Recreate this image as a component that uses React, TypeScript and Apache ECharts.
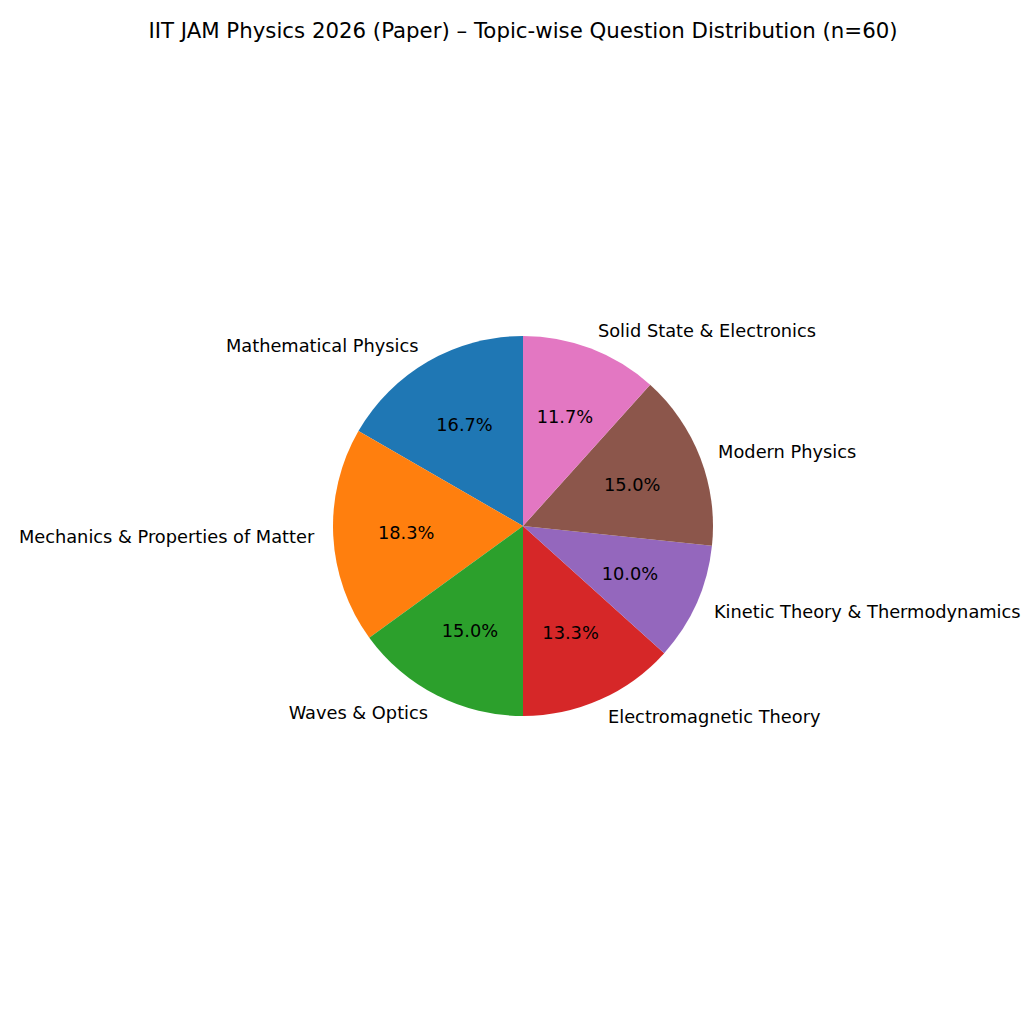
import React, { useEffect, useRef } from "react";
import * as echarts from "echarts";

const titleText = "IIT JAM Physics 2026 (Paper) – Topic-wise Question Distribution (n=60)";
const topics = [
  "Mathematical Physics",
  "Mechanics & Properties of Matter",
  "Waves & Optics",
  "Electromagnetic Theory",
  "Kinetic Theory & Thermodynamics",
  "Modern Physics",
  "Solid State & Electronics",
];
const counts = [10, 11, 9, 8, 6, 9, 7];
const colors = ["#1f77b4", "#ff7f0e", "#2ca02c", "#d62728", "#9467bd", "#8c564b", "#e377c2"];

const FONT = "DejaVu Sans";

export default function App() {
  const ref = useRef<HTMLDivElement>(null);
  useEffect(() => {
    document.body.style.margin = "0";
    const chart = echarts.init(ref.current!, null, { renderer: "svg" });
    const cx = 523;
    const cy = 526;
    const r = 190;
    const data = topics.map((name, i) => ({ name, value: counts[i], itemStyle: { color: colors[i] } }));
    chart.setOption({
      animation: false,
      backgroundColor: "#ffffff",
      graphic: [
        {
          type: "text",
          x: cx,
          y: 30,
          style: {
            text: titleText,
            fontFamily: FONT,
            fontSize: 21.3,
            fill: "#000",
            textAlign: "center",
            textVerticalAlign: "middle",
          },
        },
      ],
      series: [
        {
          type: "pie",
          center: [cx, cy],
          radius: [0, r],
          startAngle: 90,
          clockwise: false,
          avoidLabelOverlap: false,
          silent: true,
          data,
          label: {
            show: true,
            position: "outside",
            formatter: "{b}",
            fontFamily: FONT,
            fontSize: 17.8,
            color: "#000",
            distanceToLabelLine: 0,
          },
          labelLine: { show: false, length: r * 0.1, length2: 0 },
        },
        {
          type: "pie",
          center: [cx, cy],
          radius: [0, r * 1.2],
          startAngle: 90,
          clockwise: false,
          avoidLabelOverlap: false,
          silent: true,
          percentPrecision: 1,
          data: topics.map((name, i) => ({ name, value: counts[i] })),
          itemStyle: { color: "rgba(0,0,0,0)" },
          label: {
            show: true,
            position: "inside",
            formatter: (p: any) => p.percent.toFixed(1) + "%",
            fontFamily: FONT,
            fontSize: 17.8,
            color: "#000",
          },
          labelLine: { show: false },
        },
      ],
    });
    return () => chart.dispose();
  }, []);
  return <div ref={ref} style={{ width: 1024, height: 1024 }} />;
}
